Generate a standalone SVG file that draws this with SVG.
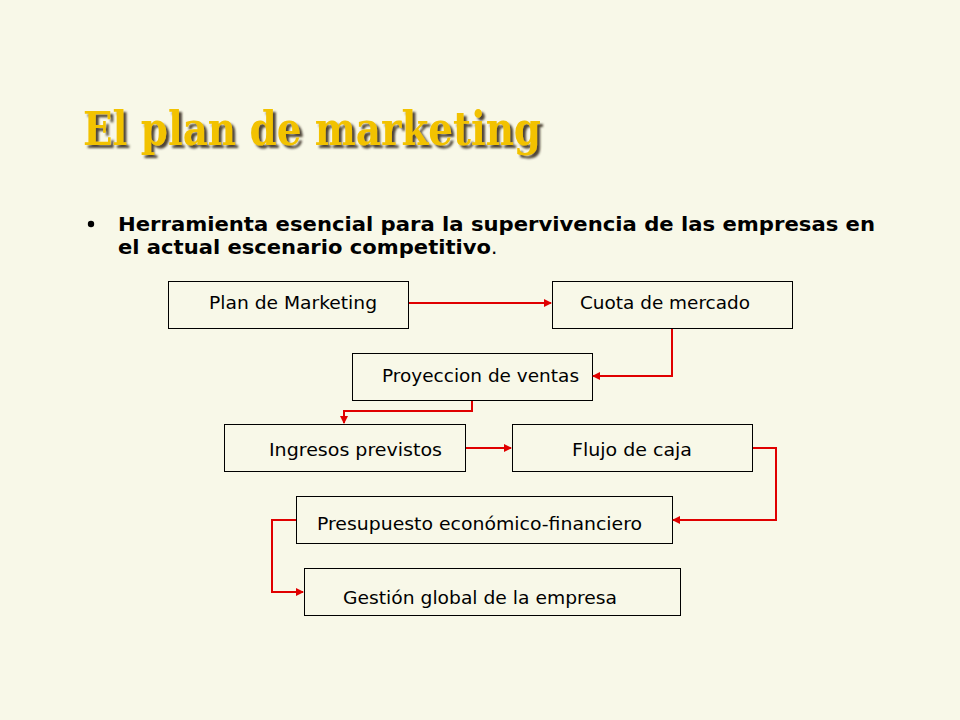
<svg xmlns="http://www.w3.org/2000/svg" width="960" height="720" viewBox="0 0 960 720">
<style>
.box{fill:none;stroke:#000;stroke-width:1}
.lbl{font-family:"DejaVu Sans",Verdana,sans-serif;font-size:17px;fill:#000}
.con{fill:none;stroke:#E00000;stroke-width:2}
</style>
<defs>
<marker id="ah" markerWidth="8" markerHeight="8" refX="7" refY="4" orient="auto" markerUnits="userSpaceOnUse">
<path d="M0,0 L8,4 L0,8 Z" fill="#E00000"/>
</marker>
<filter id="sh" x="-5%" y="-20%" width="110%" height="150%">
<feDropShadow dx="3" dy="3" stdDeviation="0.8" flood-color="#3a3020" flood-opacity="0.9"/>
</filter>
</defs>
<rect width="960" height="720" fill="#F8F8E8"/>
<g id="title">
<text x="83" y="145" font-family="'DejaVu Serif',Georgia,serif" font-weight="bold" font-size="46" fill="#F2C200" filter="url(#sh)" textLength="458" lengthAdjust="spacingAndGlyphs">El plan de marketing</text>
</g>
<g id="bullet" font-family="'DejaVu Sans',Verdana,sans-serif" font-weight="bold" font-size="20" fill="#000">
<circle cx="91" cy="224" r="3.2" fill="#000"/>
<text x="118" y="231" textLength="757" lengthAdjust="spacingAndGlyphs">Herramienta esencial para la supervivencia de las empresas en</text>
<text x="118" y="254"><tspan textLength="373" lengthAdjust="spacingAndGlyphs">el actual escenario competitivo</tspan><tspan font-weight="normal">.</tspan></text>
</g>
<g id="n1"><rect class="box" x="168.5" y="281.5" width="240" height="47"/><text class="lbl" x="209" y="309" textLength="168" lengthAdjust="spacingAndGlyphs">Plan de Marketing</text></g>
<g id="n2"><rect class="box" x="552.5" y="281.5" width="240" height="47"/><text class="lbl" x="580" y="309" textLength="170" lengthAdjust="spacingAndGlyphs">Cuota de mercado</text></g>
<g id="n3"><rect class="box" x="352.5" y="353.5" width="240" height="47"/><text class="lbl" x="382" y="382" textLength="197" lengthAdjust="spacingAndGlyphs">Proyeccion de ventas</text></g>
<g id="n4"><rect class="box" x="224.5" y="424.5" width="241" height="47"/><text class="lbl" x="269" y="456" textLength="173" lengthAdjust="spacingAndGlyphs">Ingresos previstos</text></g>
<g id="n5"><rect class="box" x="512.5" y="424.5" width="240" height="47"/><text class="lbl" x="572" y="456" textLength="120" lengthAdjust="spacingAndGlyphs">Flujo de caja</text></g>
<g id="n6"><rect class="box" x="296.5" y="496.5" width="376" height="47"/><text class="lbl" x="317" y="530" textLength="325" lengthAdjust="spacingAndGlyphs">Presupuesto económico-financiero</text></g>
<g id="n7"><rect class="box" x="304.5" y="568.5" width="376" height="47"/><text class="lbl" x="343" y="604" textLength="274" lengthAdjust="spacingAndGlyphs">Gestión global de la empresa</text></g>
<g id="connectors">
<path class="con" d="M409,303 H551" marker-end="url(#ah)"/>
<path class="con" d="M672,329 V376 H593" marker-end="url(#ah)"/>
<path class="con" d="M472,401 V411 H344 V423" marker-end="url(#ah)"/>
<path class="con" d="M466,448 H511" marker-end="url(#ah)"/>
<path class="con" d="M753,448 H776 V520 H673" marker-end="url(#ah)"/>
<path class="con" d="M296,520 H272 V592 H303" marker-end="url(#ah)"/>
</g>
</svg>
